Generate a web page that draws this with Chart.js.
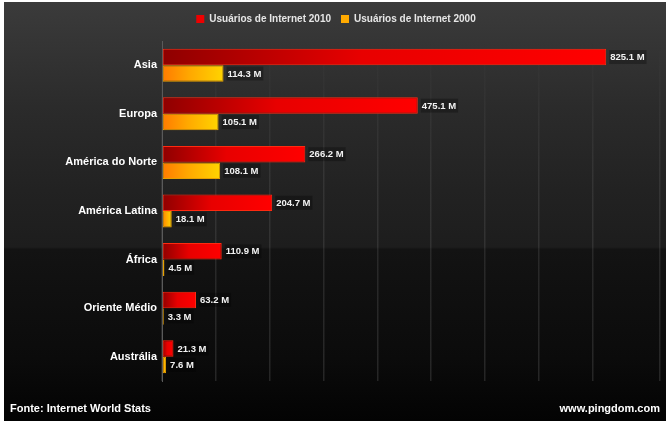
<!DOCTYPE html>
<html>
<head>
<meta charset="utf-8">
<script src="https://cdn.jsdelivr.net/npm/chart.js@4/dist/chart.umd.min.js"></script>
<style>
  html, body { margin: 0; padding: 0; background: #fff; }
  #wrap {
    position: absolute; left: 4px; top: 2px; width: 662px; height: 419px;
    background: linear-gradient(to bottom, #3b3b3b 0%, #2b2b2b 25%, #222 45%, #1d1d1d 58.5%, #131313 59%, #0b0b0b 85%, #030303 100%);
  }
  #chart { position: absolute; left: 0; top: 0; }
  .foot {
    position: absolute; bottom: 7px; color: #fff;
    font: bold 11px "Liberation Sans", Arial, sans-serif;
  }
</style>
</head>
<body>
<div id="wrap">
  <canvas id="chart" width="662" height="419"></canvas>
  <div class="foot" style="left:6px">Fonte: Internet World Stats</div>
  <div class="foot" style="right:6px">www.pingdom.com</div>
</div>
<script>
var regions = ["Asia", "Europa", "América do Norte", "América Latina", "África", "Oriente Médio", "Austrália"];
var users2010 = [825.1, 475.1, 266.2, 204.7, 110.9, 63.2, 21.3];
var users2000 = [114.3, 105.1, 108.1, 18.1, 4.5, 3.3, 7.6];

function barGradient(c, from, mid, to) {
    var chart = c.chart;
    if (!chart.chartArea || c.raw === undefined) return to;
    var x0 = chart.scales.x.getPixelForValue(0);
    var x1 = chart.scales.x.getPixelForValue(c.raw);
    if (x1 - x0 < 2) x1 = x0 + 2;
    var g = chart.ctx.createLinearGradient(x0, 0, x1, 0);
    g.addColorStop(0, from);
    g.addColorStop(0.45, mid);
    g.addColorStop(1, to);
    return g;
}

// push the plot down a bit below the legend
var legendGap = {
    id: 'legendGap',
    afterInit: function(chart) {
        var fit = chart.legend.fit;
        chart.legend.fit = function() {
            fit.bind(chart.legend)();
            this.height += 7;
        };
    }
};

var valueLabels = {
    id: 'valueLabels',
    afterDatasetsDraw: function(chart) {
        var ctx = chart.ctx;
        ctx.save();
        ctx.font = 'bold 9.5px "Liberation Sans", Arial, sans-serif';
        ctx.textBaseline = 'middle';
        chart.data.datasets.forEach(function(ds, i) {
            var meta = chart.getDatasetMeta(i);
            meta.data.forEach(function(el, j) {
                var txt = ds.data[j].toFixed(1) + ' M';
                var w = ctx.measureText(txt).width;
                var x = el.x + 4;
                ctx.fillStyle = 'rgba(0,0,0,0.28)';
                ctx.fillRect(x - 1, el.y - 7, w + 3, 14);
                ctx.fillStyle = '#f2f2f2';
                ctx.fillText(txt, x, el.y + 0.5);
            });
        });
        ctx.restore();
    }
};

var ctx = document.getElementById('chart').getContext('2d');

var gridColor = function(c) {
    var area = c.chart.chartArea;
    if (!area) return 'rgba(255,255,255,0.1)';
    var g = c.chart.ctx.createLinearGradient(0, area.top, 0, area.bottom);
    g.addColorStop(0, 'rgba(255,255,255,0)');
    g.addColorStop(0.4, 'rgba(255,255,255,0.08)');
    g.addColorStop(1, 'rgba(255,255,255,0.12)');
    return g;
};

var chart = new Chart(ctx, {
    type: 'bar',
    data: {
        labels: regions,
        datasets: [
            {
                label: 'Usuários de Internet 2010',
                data: users2010,
                backgroundColor: function(c) { return barGradient(c, '#8e0000', '#e80000', '#ff0000'); },
                borderColor: '#ff2a10',
                borderWidth: 1,
                borderSkipped: false
            },
            {
                label: 'Usuários de Internet 2000',
                data: users2000,
                backgroundColor: function(c) { return barGradient(c, '#ff7a00', '#ffa800', '#ffd400'); },
                borderColor: '#e6a000',
                borderWidth: 1,
                borderSkipped: false
            }
        ]
    },
    options: {
        indexAxis: 'y',
        responsive: false,
        animation: false,
        layout: { padding: { left: 8, right: 6, top: 2, bottom: 40 } },
        datasets: { bar: { barPercentage: 1, categoryPercentage: 0.68 } },
        scales: {
            x: {
                min: 0,
                max: 925,
                ticks: { display: false, stepSize: 100 },
                grid: { color: gridColor, drawTicks: false, lineWidth: 1.5 },
                border: { display: false }
            },
            y: {
                afterFit: function(s) { s.width = 150; },
                ticks: {
                    color: '#ffffff',
                    padding: 5,
                    font: { family: '"Liberation Sans", Arial, sans-serif', size: 11, weight: 'bold' }
                },
                grid: { display: false, drawTicks: false },
                border: { display: true, color: '#5a5a5a', width: 1 }
            }
        },
        plugins: {
            legend: {
                position: 'top',
                labels: {
                    color: '#e6e6e6',
                    boxWidth: 8,
                    boxHeight: 8,
                    padding: 10,
                    font: { family: '"Liberation Sans", Arial, sans-serif', size: 10, weight: 'bold' },
                    generateLabels: function(ch) {
                        var cols = ['#ee0000', '#ffaa00'];
                        return ch.data.datasets.map(function(ds, i) {
                            return { text: ds.label, fillStyle: cols[i], strokeStyle: cols[i], lineWidth: 0, fontColor: '#e6e6e6', datasetIndex: i };
                        });
                    }
                }
            },
            tooltip: { enabled: false }
        }
    },
    plugins: [legendGap, valueLabels]
});
</script>
</body>
</html>
